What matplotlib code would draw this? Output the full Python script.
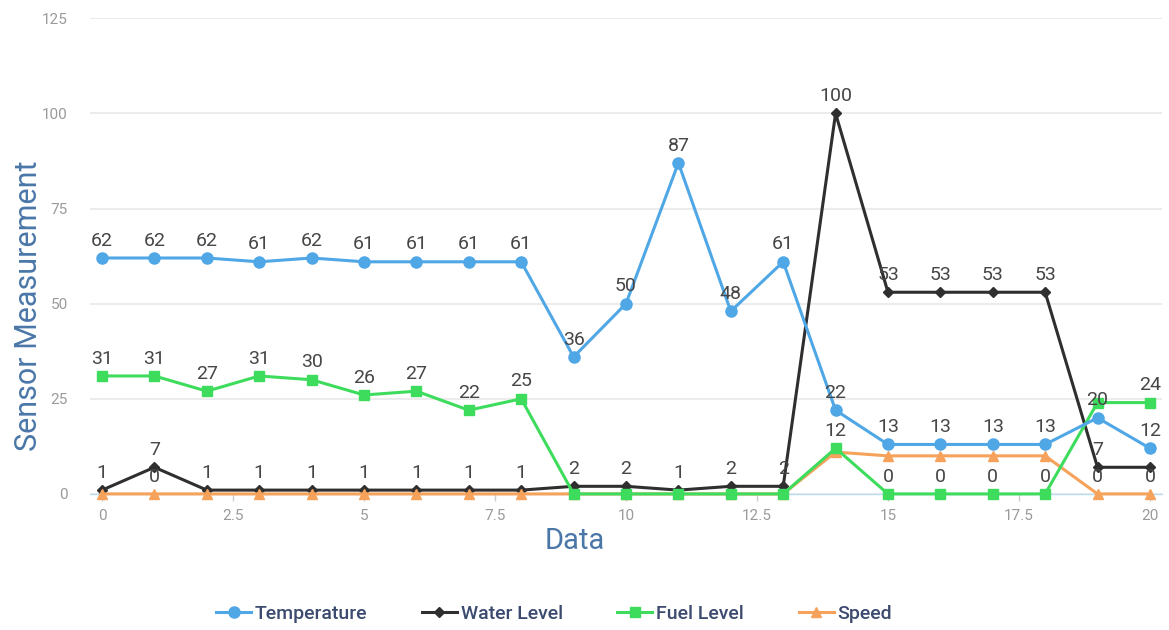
import matplotlib.pyplot as plt
from matplotlib.lines import Line2D

plt.rcParams['font.family'] = ['Roboto', 'DejaVu Sans']

# data
x = list(range(21))
temperature = [62, 62, 62, 61, 62, 61, 61, 61, 61, 36, 50, 87, 48, 61, 22, 13, 13, 13, 13, 20, 12]
water_level = [1, 7, 1, 1, 1, 1, 1, 1, 1, 2, 2, 1, 2, 2, 100, 53, 53, 53, 53, 7, 7]
fuel_level = [31, 31, 27, 31, 30, 26, 27, 22, 25, 0, 0, 0, 0, 0, 12, 0, 0, 0, 0, 24, 24]
speed = [0, 0, 0, 0, 0, 0, 0, 0, 0, 0, 0, 0, 0, 0, 11, 10, 10, 10, 10, 0, 0]

# which points carry a visible value label (the rest were hidden by overlap)
temp_labeled = list(range(21))
water_labeled = list(range(20))
fuel_labeled = list(range(9)) + [14, 15, 16, 17, 18, 20]
speed_labeled = [1, 19, 20]

x_ticks = [0, 2.5, 5, 7.5, 10, 12.5, 15, 17.5, 20]
x_tick_labels = ['0', '2.5', '5', '7.5', '10', '12.5', '15', '17.5', '20']
y_ticks = [0, 25, 50, 75, 100, 125]

series = [
    ('Temperature', temperature, temp_labeled, '#4fa7e6', 'o', 8, 5),
    ('Water Level', water_level, water_labeled, '#2f2f2f', 'D', 5, 3),
    ('Fuel Level', fuel_level, fuel_labeled, '#3ddc5c', 's', 7, 4.5),
    ('Speed', speed, speed_labeled, '#f6a25b', '^', 7, 3.5),
]

fig = plt.figure(figsize=(11.69, 6.30), dpi=100)
ax = fig.add_axes([0.077, 0.216, 0.917, 0.755])

for name, vals, labeled, color, marker, ms, z in series:
    ax.plot(x, vals, color=color, marker=marker, markersize=ms, linewidth=2.2,
            label=name, zorder=z, clip_on=False)
    for i in labeled:
        ax.annotate(str(vals[i]), (x[i], vals[i]), xytext=(0, 6),
                    textcoords='offset points', ha='center', va='bottom',
                    fontsize=14, color='#464646', zorder=10)

ax.set_xlim(-0.23, 20.23)
ax.set_ylim(0, 125)
ax.set_xticks(x_ticks)
ax.set_xticklabels(x_tick_labels)
ax.set_yticks(y_ticks)
ax.tick_params(axis='x', colors='#cccccc', labelcolor='#9a9a9a', labelsize=11,
               length=5, width=1, pad=6)
ax.tick_params(axis='y', length=0, labelcolor='#9a9a9a', labelsize=11, pad=16)
ax.grid(axis='y', color='#ececec', linewidth=1.5)
ax.set_axisbelow(True)
for s in ['top', 'right', 'left']:
    ax.spines[s].set_visible(False)
ax.spines['bottom'].set_color('#bcdcf2')
ax.spines['bottom'].set_linewidth(1)

fig.text(0.024, 0.515, 'Sensor Measurement', rotation=90, ha='center', va='center',
         fontsize=22, color='#4a77a8')
fig.text(0.492, 0.142, 'Data', ha='center', va='center', fontsize=21, color='#4a77a8')

handles = [Line2D([0], [0], color=c, marker=m, markersize=ms, linewidth=2.2)
           for _, _, _, c, m, ms, _ in series]
fig.legend(handles, [s[0] for s in series], loc='center', bbox_to_anchor=(0.474, 0.025),
           ncol=4, frameon=False, labelcolor='#3b4a6e',
           prop={'weight': 'medium', 'size': 14},
           handlelength=1.8, handletextpad=0.2, columnspacing=2.8)

fig.savefig('out.png', dpi=100)
